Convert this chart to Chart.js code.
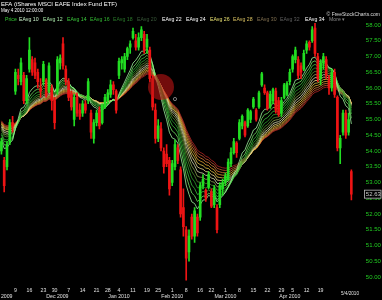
<!DOCTYPE html>
<html>
<head>
<meta charset="utf-8">
<script src="https://cdn.jsdelivr.net/npm/chart.js@4"></script>
<style>
  html, body { margin: 0; padding: 0; background: #000; }
  canvas { display: block; background: #000; }
</style>
</head>
<body>
<canvas id="c" width="382" height="300"></canvas>
<script>
(function(){

    "use strict"

    // trading days, Nov 2 2009 .. May 4 2010
    const firstDay = "2009-11-02";
    const lastDay = "2010-05-04";
    const holidays = ["2009-11-26", "2009-12-25", "2010-01-01", "2010-01-18", "2010-02-15", "2010-04-02"];

    // daily prices
    const opens = [54.0,53.7,53.5,54.3,54.9,55.9,56.4,56.2,56.4,55.6,
        56.6,56.9,56.8,56.5,56.0,56.2,56.25,55.9,56.0,55.6,
        55.9,56.8,57.4,56.6,56.2,55.8,55.0,55.7,55.3,55.2,
        55.5,55.6,55.2,54.4,54.9,55.3,54.9,55.4,55.6,55.8,
        56.1,55.9,56.4,56.8,56.6,57.0,57.3,57.6,57.5,57.3,
        57.6,57.7,57.3,57.2,56.3,55.3,54.4,54.7,54.0,53.9,
        53.7,53.0,53.5,54.1,53.4,52.2,51.5,50.8,51.9,51.3,
        51.9,51.9,52.9,52.75,52.85,52.7,52.3,52.2,52.3,52.8,
        53.0,53.1,53.6,53.95,54.25,54.4,54.8,54.9,54.8,55.0,
        55.4,55.3,55.4,56.1,56.0,55.85,55.4,55.6,55.9,55.6,
        55.2,55.7,55.8,56.2,56.6,56.9,56.9,56.7,56.6,57.2,
        57.45,57.5,57.9,57.0,56.3,56.8,56.9,56.3,56.0,56.5,
        55.7,54.1,54.6,55.2,54.6,53.35];
    const highs = [54.4,53.8,54.3,55.0,55.1,56.6,56.6,56.95,56.5,56.4,
        57.6,57.0,56.95,56.6,56.3,56.85,56.3,56.8,56.1,55.7,
        57.0,57.05,57.6,56.7,56.3,55.9,55.8,55.85,55.5,55.6,
        55.6,56.3,55.3,55.0,55.3,55.4,55.5,55.8,55.95,56.25,
        56.2,55.95,56.95,57.0,57.1,57.3,57.5,57.9,57.7,57.75,
        57.95,57.8,57.7,57.3,56.4,55.5,55.0,54.9,54.1,54.2,
        53.8,53.7,54.35,54.2,53.5,52.8,51.6,51.5,52.0,52.2,
        52.0,53.0,53.25,52.8,53.35,52.8,52.9,52.3,53.0,53.1,
        53.3,53.75,54.1,54.4,54.3,55.0,55.15,54.95,55.35,55.3,
        55.7,55.35,55.9,56.5,56.1,55.9,55.9,56.0,56.0,55.7,
        55.7,56.15,56.2,56.6,57.05,57.3,57.0,56.8,57.2,57.5,
        57.5,57.95,58.05,57.1,56.9,57.1,57.0,56.4,56.6,56.6,
        55.75,54.5,55.3,55.3,55.2,53.4];
    const lows = [53.9,52.7,53.4,54.2,54.6,55.8,56.1,56.1,55.5,55.5,
        56.5,56.4,56.3,56.0,55.7,56.1,55.7,55.85,55.3,54.7,
        55.8,56.6,56.6,56.1,55.6,55.3,54.8,55.1,55.0,55.1,
        55.2,55.5,54.4,54.25,54.8,54.7,54.85,55.35,55.5,55.7,
        55.8,55.2,56.3,56.6,56.5,56.9,57.1,57.55,57.2,57.2,
        57.5,57.1,57.1,56.2,55.3,54.25,54.3,54.0,53.3,53.5,
        52.6,52.9,53.4,53.6,51.9,51.3,49.9,50.5,51.2,51.1,
        51.3,51.8,52.8,52.4,52.8,52.2,52.2,51.4,52.2,52.6,
        52.9,53.05,53.5,53.9,53.8,54.35,54.7,54.45,54.75,54.9,
        55.35,54.95,55.35,56.05,55.8,55.3,55.35,55.5,55.2,55.1,
        55.1,55.65,55.75,56.1,56.5,56.8,56.3,56.3,56.55,57.1,
        57.2,57.45,57.0,56.2,56.1,56.6,56.3,55.8,55.9,55.7,
        54.0,53.6,54.5,54.4,54.5,52.45];
    const closes = [54.3,52.9,54.2,54.9,54.8,56.5,56.3,56.8,55.6,56.3,
        57.2,56.5,56.4,56.2,55.9,56.75,55.75,56.7,55.6,54.9,
        56.9,56.95,56.7,56.2,55.7,55.4,55.7,55.2,55.1,55.5,
        55.3,56.2,54.6,54.9,55.2,54.8,55.45,55.7,55.85,56.1,
        55.95,55.3,56.85,56.9,57.0,57.25,57.4,57.8,57.3,57.6,
        57.85,57.2,57.55,56.3,55.4,54.4,54.8,54.1,53.5,53.6,
        52.8,53.6,54.2,53.7,52.0,51.6,50.6,51.3,51.3,52.1,
        51.4,52.9,53.1,52.5,53.25,52.25,52.8,51.5,52.9,53.0,
        53.2,53.65,53.95,54.3,53.95,54.9,55.1,54.5,55.3,55.25,
        55.65,55.0,55.85,56.45,55.85,55.35,55.8,55.95,55.3,55.15,
        55.6,56.1,56.15,56.5,57.0,57.2,56.4,56.5,57.1,57.4,
        57.3,57.85,57.1,56.3,56.8,57.0,56.4,56.0,56.5,55.8,
        54.1,54.4,55.2,54.5,55.0,52.63];

    // exponential averages and where each one stands at the left edge
    const emaPeriods = [10, 12, 14, 16, 18, 20, 22, 24, 26, 28, 30, 32, 34];
    const emaStart = [54.35, 54.45, 54.55, 54.6, 54.7, 54.75, 54.8, 54.85, 54.9, 54.92, 54.95, 54.97, 55.0];
    const emaColors = ["#9cf29c", "#6fe060", "#3cc23c", "#2c9e2c", "#4f8c2c", "#8ea452",
        "#d8e0b0", "#eadb92", "#e2c445", "#e0a232", "#d47a38", "#c45430", "#b42424"];
    const legendColors = ["#c8f0c8", "#a8e8a8", "#3ccc3c", "#33bb33", "#2a7a2a", "#3a5a3a",
        "#ffffff", "#ffffff", "#e8e070", "#d8c060", "#807050", "#606060", "#ffffff"];
    const legendX = [19, 43, 67, 90, 113, 137, 162, 186, 210, 233, 257, 280, 305];

    // axis labels
    const yTicks = [];
    for (let v = 50; v <= 58; v += 0.25) yTicks.push(v);
    const weekTicks = [["2009-11-09","9"],["2009-11-16","16"],["2009-11-23","23"],["2009-11-30","30"],
        ["2009-12-07","7"],["2009-12-14","14"],["2009-12-21","21"],["2009-12-28","28"],
        ["2010-01-04","4"],["2010-01-11","11"],["2010-01-19","19"],["2010-01-25","25"],
        ["2010-02-01","1"],["2010-02-08","8"],["2010-02-16","16"],["2010-02-22","22"],
        ["2010-03-01","1"],["2010-03-08","8"],["2010-03-15","15"],["2010-03-22","22"],
        ["2010-03-29","29"],["2010-04-05","5"],["2010-04-12","12"],["2010-04-19","19"]];
    const monthTicks = [["2009-11-02","Nov 2009"],["2009-12-01","Dec 2009"],["2010-01-04","Jan 2010"],
        ["2010-02-01","Feb 2010"],["2010-03-01","Mar 2010"],["2010-04-01","Apr 2010"]];

    // marker drawn on the chart
    const marker = { date: "2010-01-26", value: 56.03 };
    const markerDot = { date: "2010-02-02", value: 55.65 };

    function tradingDays() {
        const out = [];
        const d = new Date(firstDay + "T00:00:00Z");
        const end = new Date(lastDay + "T00:00:00Z");
        while (d <= end) {
            const s = d.toISOString().slice(0, 10);
            const wd = d.getUTCDay();
            if (wd !== 0 && wd !== 6 && holidays.indexOf(s) < 0) out.push(s);
            d.setUTCDate(d.getUTCDate() + 1);
        }
        return out;
    }

    function ema(period, start) {
        const k = 2 / (period + 1);
        const out = [];
        let prev = start;
        for (let i = 0; i < closes.length; i++) {
            prev = prev + k * (closes[i] - prev);
            out.push(+prev.toFixed(3));
        }
        return out;
    }

    const labels = tradingDays();
    const upColor = "#22dd22";
    const downColor = "#ee1414";
    const candleColors = closes.map((c, i) => c >= opens[i] ? upColor : downColor);

    const datasets = [];
    datasets.push({
        type: "bubble",
        data: [{ x: marker.date, y: marker.value, r: 13 }],
        backgroundColor: "rgba(190,20,20,0.6)",
        borderWidth: 0,
        order: -2
    });
    datasets.push({
        type: "bubble",
        data: [{ x: markerDot.date, y: markerDot.value, r: 1.6 }],
        backgroundColor: "rgba(0,0,0,0)",
        borderColor: "#999",
        borderWidth: 0.8,
        order: -2
    });
    datasets.push({
        type: "bar",
        data: opens.map((o, i) => [o, closes[i]]),
        backgroundColor: candleColors,
        barThickness: 2,
        grouped: false,
        borderWidth: 0,
        order: 0
    });
    datasets.push({
        type: "bar",
        data: lows.map((l, i) => [l, highs[i]]),
        backgroundColor: candleColors,
        barThickness: 1,
        grouped: false,
        borderWidth: 0,
        order: 1
    });
    emaPeriods.forEach((p, j) => {
        datasets.push({
            type: "line",
            data: ema(p, emaStart[j]),
            borderColor: emaColors[j],
            borderWidth: 0.8,
            pointRadius: 0,
            tension: 0,
            order: 2 + j
        });
    });

    // texts: header, legend, date labels, last price box
    const textPlugin = {
        id: "texts",
        afterDraw(chart) {
            const ctx = chart.ctx;
            const x = chart.scales.x;
            const y = chart.scales.y;
            ctx.save();
            ctx.textBaseline = "middle";

            ctx.fillStyle = "#ffffff";
            ctx.font = "6px 'Liberation Sans'";
            ctx.textAlign = "left";
            ctx.fillText("EFA (iShares MSCI EAFE Index Fund ETF)", 1, 4.5);
            ctx.font = "4.5px 'Liberation Sans'";
            ctx.fillText("May 4 2010 12:00:00", 1, 11);
            ctx.textAlign = "right";
            ctx.font = "5px 'Liberation Sans'";
            ctx.fillStyle = "#dddddd";
            ctx.fillText("\u00a9 FreeStockCharts.com", 380, 14.5);

            ctx.textAlign = "left";
            ctx.font = "5.2px 'Liberation Sans'";
            ctx.fillStyle = "#33cc33";
            ctx.fillText("Price", 5, 19.5);
            emaPeriods.forEach((p, j) => {
                ctx.fillStyle = legendColors[j];
                ctx.fillText("EAvg " + p, legendX[j], 19.5);
            });
            ctx.fillStyle = "#888888";
            ctx.fillText("More \u25be", 329, 19.5);

            // x labels
            ctx.textAlign = "center";
            ctx.fillStyle = "#e0e0e0";
            ctx.font = "5.2px 'Liberation Sans'";
            weekTicks.forEach(t => {
                ctx.fillText(t[1], x.getPixelForValue(labels.indexOf(t[0])), 291);
            });
            monthTicks.forEach(t => {
                ctx.fillText(t[1], x.getPixelForValue(labels.indexOf(t[0])), 297);
            });
            ctx.font = "4.6px 'Liberation Sans'";
            ctx.fillText("5/4/2010", 350, 293.5);

            // last price box
            const last = closes[closes.length - 1];
            const py = y.getPixelForValue(last);
            ctx.strokeStyle = "#bbbbbb";
            ctx.lineWidth = 0.8;
            ctx.fillStyle = "#000";
            ctx.fillRect(364, py - 4, 17, 8);
            ctx.strokeRect(364.5, py - 4, 16.5, 8);
            ctx.fillStyle = "#cccccc";
            ctx.font = "6px 'Liberation Sans'";
            ctx.textAlign = "left";
            ctx.fillText(last.toFixed(2), 365.8, py + 0.3);
            ctx.restore();
        }
    };

    new Chart(document.getElementById("c"), {
        data: { labels: labels, datasets: datasets },
        options: {
            responsive: false,
            animation: false,
            devicePixelRatio: 1,
            layout: { autoPadding: false, padding: { left: 0, top: 21.85, bottom: 16.7, right: 0 } },
            plugins: { legend: { display: false }, tooltip: { enabled: false } },
            scales: {
                x: {
                    type: "category",
                    display: false,
                    offset: true
                },
                y: {
                    position: "right",
                    min: 49.8,
                    max: 58.1,
                    grid: { display: false, drawTicks: false },
                    border: { display: false },
                    afterBuildTicks: s => { s.ticks = yTicks.map(v => ({ value: v })); },
                    afterFit: s => { s.width = 29.2; },
                    ticks: {
                        color: "#22cc22",
                        padding: 13,
                        font: { size: 6, family: "Liberation Sans" },
                        callback: v => (+v).toFixed(2)
                    }
                }
            }
        },
        plugins: [textPlugin]
    });

}());
</script>
</body>
</html>
